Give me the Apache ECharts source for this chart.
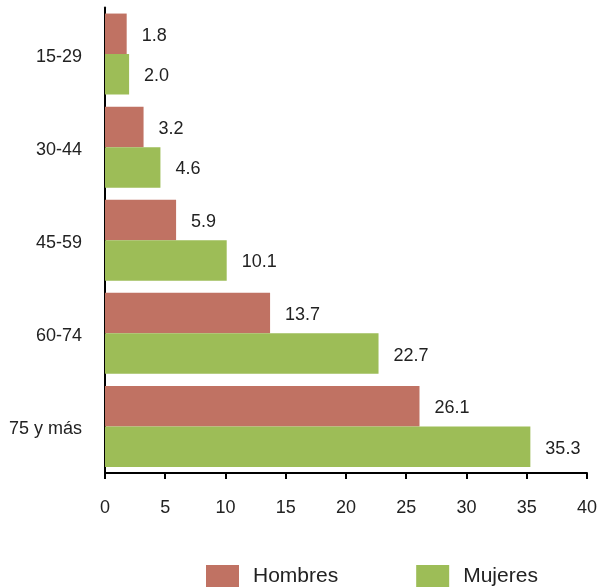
<!DOCTYPE html>
<html>
<head>
<meta charset="utf-8">
<script src="https://cdn.jsdelivr.net/npm/echarts@6/dist/echarts.min.js"></script>
<style>html,body{margin:0;padding:0;background:#fff}#c{width:600px;height:588px}</style>
</head>
<body>
<div id="c"></div>
<script>
const categories = ['15-29', '30-44', '45-59', '60-74', '75 y más'];
const hombres = [1.8, 3.2, 5.9, 13.7, 26.1];
const mujeres = [2.0, 4.6, 10.1, 22.7, 35.3];
const xTicks = [0, 5, 10, 15, 20, 25, 30, 35, 40];

const font = 'Arial, "Liberation Sans", sans-serif';
const chart = echarts.init(document.getElementById('c'));
const labelOpt = {
  show: true, position: 'right', distance: 15, offset: [0, 2],
  color: '#222', fontSize: 18, fontFamily: font,
  formatter: p => p.value.toFixed(1)
};
chart.setOption({
  animation: false,
  grid: { left: 105, right: 11, top: 7.5, bottom: 115, containLabel: false },
  legend: {
    left: 206, top: 565, itemWidth: 33, itemHeight: 22, itemGap: 78, padding: 0,
    icon: 'rect',
    textStyle: { fontSize: 21, color: '#222', fontFamily: font, padding: [0, 0, 0, 9] },
    data: ['Hombres', 'Mujeres']
  },
  xAxis: {
    type: 'value', min: xTicks[0], max: xTicks[xTicks.length - 1], interval: 5,
    axisLine: { show: true, lineStyle: { color: '#000', width: 2 } },
    axisTick: { show: true, length: 6, lineStyle: { color: '#000', width: 2 } },
    splitLine: { show: false },
    axisLabel: { fontSize: 18, color: '#222', fontFamily: font, margin: 26 }
  },
  yAxis: {
    type: 'category', data: categories, inverse: true,
    axisLine: { show: true, lineStyle: { color: '#000', width: 2 } },
    axisTick: { show: false },
    axisLabel: { fontSize: 18, color: '#222', fontFamily: font, margin: 23,
      verticalAlign: 'top', lineHeight: 18, padding: [-6, 0, 0, 0] }
  },
  series: [
    { name: 'Hombres', type: 'bar', data: hombres, barGap: '0%', barCategoryGap: '13%',
      itemStyle: { color: '#C07263' }, label: labelOpt },
    { name: 'Mujeres', type: 'bar', data: mujeres, barGap: '0%', barCategoryGap: '13%',
      itemStyle: { color: '#9DBD57' }, label: labelOpt }
  ]
});
</script>
</body>
</html>
